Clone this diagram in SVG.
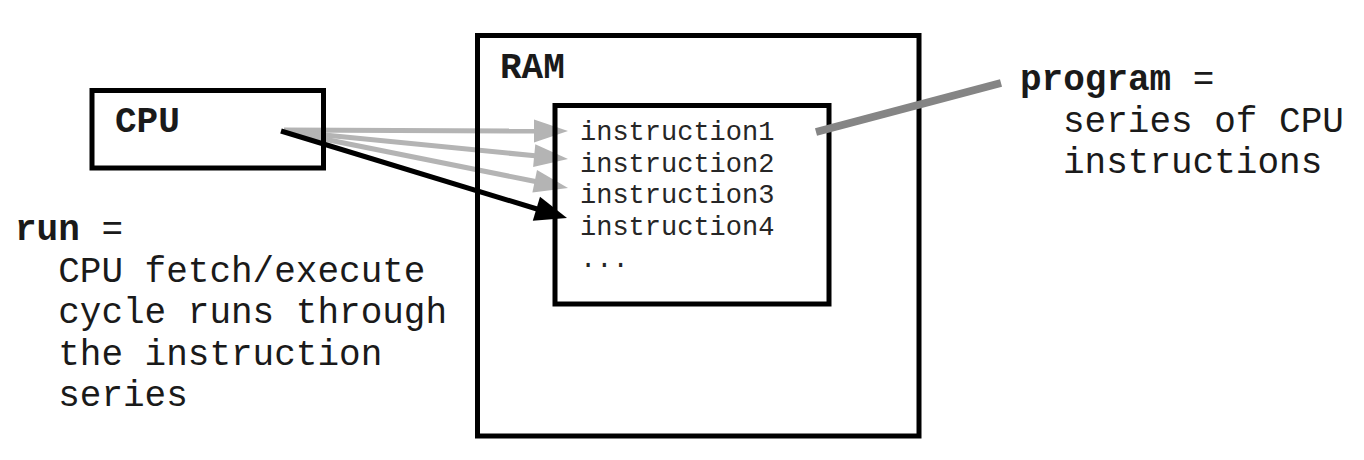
<svg xmlns="http://www.w3.org/2000/svg" width="1364" height="460" viewBox="0 0 1364 460">
  <style>
    .box { fill: none; stroke: #000; stroke-width: 5; }
    .t { font-family: "Liberation Mono", "Courier New", monospace; fill: #1a1a1a; }
    .big { font-size: 36px; }
    .small { font-size: 27px; fill: #262626; }
    .b { font-weight: bold; }
    .gray { stroke: #b4b4b4; stroke-width: 5; fill: none; }
    .blk { stroke: #000; stroke-width: 5; fill: none; }
    .headGray { fill: #b4b4b4; }
    .headBlk { fill: #000; }
  </style>
  <rect x="0" y="0" width="1364" height="460" fill="#fff"/>

  <g id="connectors">
    <line class="gray" x1="284" y1="130" x2="535" y2="131"/>
    <polygon class="headGray" points="534,119.5 568,131 534,142.5"/>
    <line class="gray" x1="284" y1="131" x2="535" y2="155.8"/>
    <polygon class="headGray" points="535.3,144.3 568,159 533.1,167.1"/>
    <line class="gray" x1="284" y1="131" x2="535.5" y2="181.5"/>
    <polygon class="headGray" points="537,170 568,188 532.4,192.6"/>
    <line class="blk" x1="281" y1="131" x2="537" y2="209"/>
    <polygon class="headBlk" points="540,196.7 567,218 532.8,220.7"/>
  </g>

  <g id="cpu">
    <rect class="box" x="92" y="90.5" width="231.5" height="77.5"/>
    <text class="t big b" x="115" y="132">CPU</text>
  </g>

  <g id="ram">
    <rect class="box" x="477.5" y="35.5" width="441.5" height="400.5"/>
    <text class="t big b" x="500" y="78">RAM</text>
  </g>

  <g id="program-block">
    <rect class="box" x="555" y="105.5" width="274" height="198.5"/>
    <text class="t small" x="580" y="140">instruction1</text>
    <text class="t small" x="580" y="171.7">instruction2</text>
    <text class="t small" x="580" y="203.4">instruction3</text>
    <text class="t small" x="580" y="235">instruction4</text>
    <text class="t small" x="580" y="266.7">...</text>
  </g>

  <g id="program-callout">
    <line x1="816" y1="132" x2="1001" y2="83" stroke="#858585" stroke-width="8"/>
  </g>

  <g id="program-label">
    <text class="t big" x="1020" y="90"><tspan class="b">program</tspan> =</text>
    <text class="t big" x="1063" y="131.5">series of CPU</text>
    <text class="t big" x="1063" y="173">instructions</text>
  </g>

  <g id="run-label">
    <text class="t big" x="15" y="240"><tspan class="b">run</tspan> =</text>
    <text class="t big" x="58.2" y="281.5">CPU fetch/execute</text>
    <text class="t big" x="58.2" y="323">cycle runs through</text>
    <text class="t big" x="58.2" y="364.5">the instruction</text>
    <text class="t big" x="58.2" y="406">series</text>
  </g>
</svg>
